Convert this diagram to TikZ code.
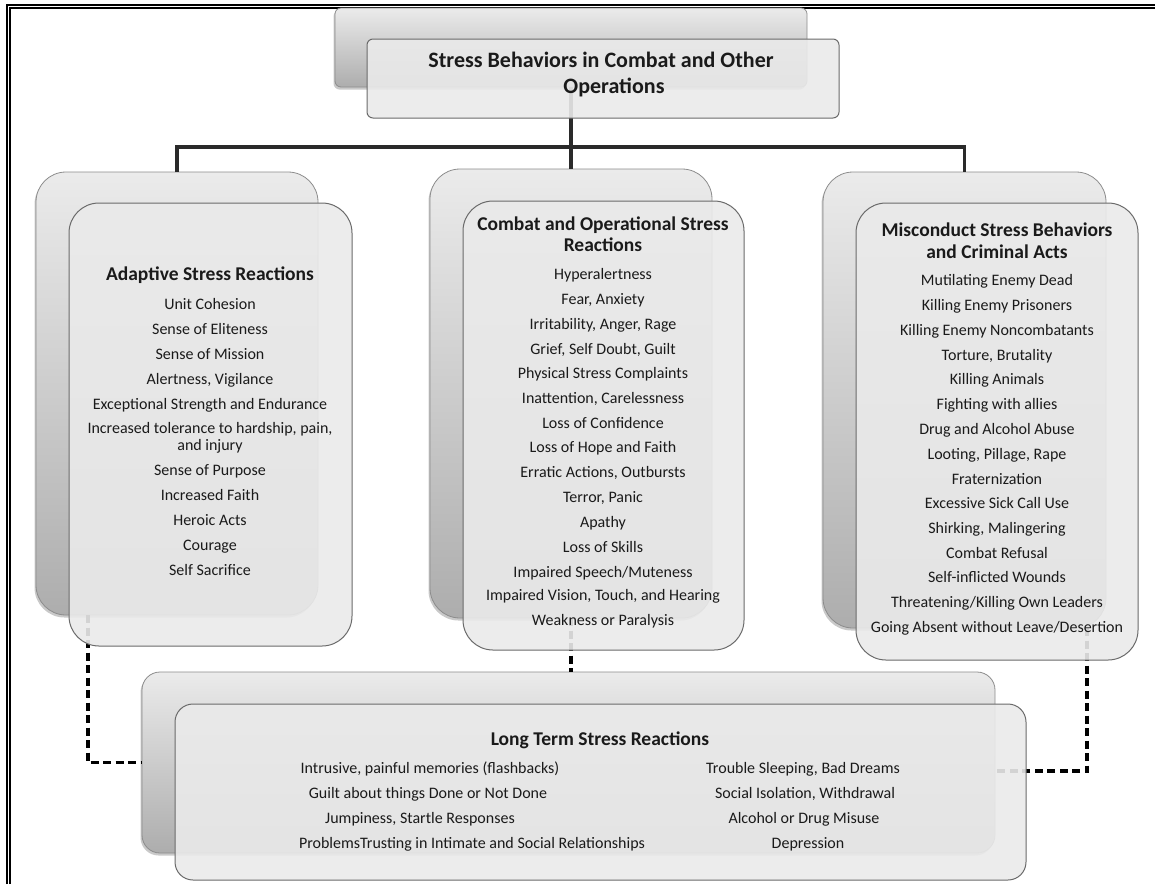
\documentclass[tikz,border=0pt]{standalone}
\usepackage{fontspec}
\setmainfont{Carlito}
\usetikzlibrary{shadows}
\definecolor{backtop}{HTML}{EBEBEB}
\definecolor{backbot}{HTML}{ADADAD}
\definecolor{backborder}{HTML}{8C8C8C}
\definecolor{frontfill}{HTML}{EAEAEA}
\definecolor{frontborder}{HTML}{6A6A6A}
\definecolor{txt}{HTML}{1A1A1A}
\definecolor{conncol}{HTML}{2A2A2A}
\tikzset{
  backbox/.style={draw=backborder, line width=0.8pt, top color=backtop, bottom color=backbot,
    drop shadow={shadow xshift=-1.5pt, shadow yshift=-2.5pt, opacity=0.3, fill=black!70},
    inner sep=0pt, outer sep=0pt, anchor=north west},
  frontbox/.style={draw=frontborder, line width=1pt, fill=frontfill, fill opacity=0.9,
    inner sep=0pt, outer sep=0pt, anchor=north west},
  item/.style={font=\fontsize{16}{19}\selectfont, text=txt, anchor=mid, inner sep=0pt},
  head/.style={font=\fontsize{19.5}{23}\selectfont\bfseries, text=txt, anchor=mid, inner sep=0pt},
  toph/.style={font=\fontsize{22}{26}\selectfont\bfseries, text=txt, anchor=mid, inner sep=0pt},
  conn/.style={line width=3.2pt, draw=conncol},
  dsh/.style={line width=3.2pt, draw=black, dash pattern=on 8pt off 4.5pt},
  frame/.style={line width=1.3pt, draw=black}
}
\begin{document}
\begin{tikzpicture}[x=1pt, y=-1pt]
\useasboundingbox (0,0) rectangle (1155,884);
% frame
\draw[frame] (7,884) -- (7,5) -- (1155,5);
\draw[frame] (10,884) -- (10,8) -- (1155,8);
% back boxes
\node[backbox, rounded corners=6pt, minimum width=472pt, minimum height=79pt] (tb) at (335,8) {};
\node[backbox, rounded corners=30pt, minimum width=282pt, minimum height=443pt] (lb) at (36,172) {};
\node[backbox, rounded corners=30pt, minimum width=282pt, minimum height=449pt] (mb) at (430,169) {};
\node[backbox, rounded corners=30pt, minimum width=283pt, minimum height=456pt] (rb) at (823,172) {};
\node[backbox, rounded corners=18pt, minimum width=853pt, minimum height=181pt] (bb) at (142,672) {};
% connectors
\coordinate (bus) at (571,147);
\draw[conn] (tb.south) -- (bus);
\draw[conn] (lb.north) |- (bus) -| (rb.north);
\draw[conn] (bus) -- (mb.north);
\coordinate (ld) at (88,615);
\coordinate (rd) at (1087,628);
\coordinate (re) at (995,771);
\draw[dsh] (ld) |- (bb.west);
\draw[dsh] (mb.south) -- (mb.south |- bb.north);
\draw[dsh] (rd) |- (re);
% front boxes
\node[frontbox, rounded corners=6pt, minimum width=472pt, minimum height=79pt] (tf) at (367,39) {};
\node[frontbox, rounded corners=30pt, minimum width=283pt, minimum height=443pt] (lf) at (69,203) {};
\node[frontbox, rounded corners=30pt, minimum width=281pt, minimum height=449pt] (mf) at (463,201) {};
\node[frontbox, rounded corners=30pt, minimum width=282pt, minimum height=457pt] (rf) at (856,203) {};
\node[frontbox, rounded corners=18pt, minimum width=851pt, minimum height=176pt] (bf) at (175,704) {};
% top title
\node[toph] (t1) at (601,65) {Stress Behaviors in Combat and Other};
\node[toph] (t2) at (614,91) {Operations};
% left column
\node[head] (lh) at (210,278) {Adaptive Stress Reactions};
\foreach \t/\y [count=\i] in {Unit Cohesion/307, Sense of Eliteness/332, Sense of Mission/357,
  {Alertness, Vigilance}/382, Exceptional Strength and Endurance/407,
  {Increased tolerance to hardship, pain,}/431, and injury/448, Sense of Purpose/473,
  Increased Faith/498, Heroic Acts/523, Courage/548, Self Sacrifice/573}
  \node[item] (l\i) at (210,\y) {\t};
% middle column
\node[head] (mh1) at (603,228) {Combat and Operational Stress};
\node[head] (mh2) at (603,249) {Reactions};
\foreach \t/\y [count=\i] in {Hyperalertness/277, {Fear, Anxiety}/302, {Irritability, Anger, Rage}/327,
  {Grief, Self Doubt, Guilt}/352, Physical Stress Complaints/376, {Inattention, Carelessness}/401,
  Loss of Confidence/426, Loss of Hope and Faith/450, {Erratic Actions, Outbursts}/475,
  {Terror, Panic}/500, Apathy/525, Loss of Skills/550, {Impaired Speech/Muteness}/575,
  {Impaired Vision, Touch, and Hearing}/598, Weakness or Paralysis/623}
  \node[item] (m\i) at (603,\y) {\t};
% right column
\node[head] (rh1) at (997,234) {Misconduct Stress Behaviors};
\node[head] (rh2) at (997,256) {and Criminal Acts};
\foreach \t/\y [count=\i] in {Mutilating Enemy Dead/283, Killing Enemy Prisoners/308,
  Killing Enemy Noncombatants/333, {Torture, Brutality}/358, Killing Animals/382,
  Fighting with allies/407, Drug and Alcohol Abuse/432, {Looting, Pillage, Rape}/457,
  Fraternization/482, Excessive Sick Call Use/506, {Shirking, Malingering}/531,
  Combat Refusal/556, Self-inflicted Wounds/580, {Threatening/Killing Own Leaders}/605,
  {Going Absent without Leave/Desertion}/630}
  \node[item] (r\i) at (997,\y) {\t};
% bottom
\node[head] (bh) at (600,743) {Long Term Stress Reactions};
\node[item] (b1) at (430,771) {Intrusive, painful memories (flashbacks)};
\node[item] (b2) at (428,796) {Guilt about things Done or Not Done};
\node[item] (b3) at (420,821) {Jumpiness, Startle Responses};
\node[item] (b4) at (472,846) {ProblemsTrusting in Intimate and Social Relationships};
\node[item] (b5) at (803,771) {Trouble Sleeping, Bad Dreams};
\node[item] (b6) at (805,796) {Social Isolation, Withdrawal};
\node[item] (b7) at (804,821) {Alcohol or Drug Misuse};
\node[item] (b8) at (808,846) {Depression};
\end{tikzpicture}
\end{document}
